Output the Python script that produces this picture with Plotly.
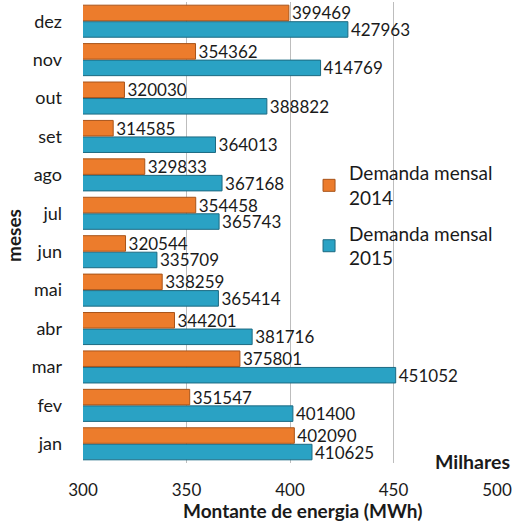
import plotly.graph_objects as go

meses = ["jan", "fev", "mar", "abr", "mai", "jun", "jul", "ago", "set", "out", "nov", "dez"]
demanda_2014 = [402090, 351547, 375801, 344201, 338259, 320544, 354458, 329833, 314585, 320030, 354362, 399469]
demanda_2015 = [410625, 401400, 451052, 381716, 365414, 335709, 365743, 367168, 364013, 388822, 414769, 427963]
x_ticks = [300, 350, 400, 450, 500]

FONT = "Lato, 'Open Sans', sans-serif"

fig = go.Figure()
fig.add_trace(go.Bar(
    y=meses, x=[v / 1000 for v in demanda_2015], orientation="h",
    name="Demanda mensal<br>2015", legendgroup="b",
    marker=dict(color="#2AA2C4", line=dict(color="#1C6A82", width=1)),
    text=[str(v) for v in demanda_2015], textposition="outside",
    constraintext="none",
    textfont=dict(size=17, color="#1a1a1a", family=FONT),
    cliponaxis=False, legendrank=2,
))
fig.add_trace(go.Bar(
    y=meses, x=[v / 1000 for v in demanda_2014], orientation="h",
    name="Demanda mensal<br>2014", legendgroup="a",
    marker=dict(color="#EC7C2C", line=dict(color="#A8541A", width=1)),
    text=[str(v) for v in demanda_2014], textposition="outside",
    constraintext="none",
    textfont=dict(size=17, color="#1a1a1a", family=FONT),
    cliponaxis=False, legendrank=1,
))

fig.update_layout(
    width=532, height=523,
    margin=dict(l=83, r=35, t=2, b=60),
    paper_bgcolor="white", plot_bgcolor="white",
    barmode="group", bargap=0.14, bargroupgap=0.06,
    font=dict(family=FONT, size=16, color="#1a1a1a"),
    showlegend=True,
    legend=dict(x=0.546, y=0.67, xanchor="left", yanchor="top",
                bgcolor="rgba(255,255,255,0)", font=dict(size=19),
                tracegroupgap=8),
    xaxis=dict(range=[300, 500], tickvals=x_ticks, ticktext=[str(t) for t in x_ticks],
               showgrid=True, gridcolor="#BDBDBD", gridwidth=1, zeroline=False,
               showline=False, ticks="", tickfont=dict(size=17), automargin=False,
               ticklabelstandoff=15),
    yaxis=dict(categoryorder="array", categoryarray=meses, showgrid=False,
               ticks="", tickfont=dict(size=18), ticklabelstandoff=20, automargin=False),
    annotations=[
        dict(text="<b>Milhares</b>", x=1.036, y=0.004, xref="paper", yref="paper",
             xanchor="right", yanchor="middle", showarrow=False,
             font=dict(size=19.5, family=FONT)),
        dict(text="<b>Montante de energia (MWh)</b>", x=(302 - 83) / 414, y=-(510 - 463) / 461,
             xref="paper", yref="paper",
             xanchor="center", yanchor="middle", showarrow=False,
             font=dict(size=19, family=FONT)),
        dict(text="<b>meses</b>", x=(13 - 83) / 414, y=(463 - 236) / 461, xref="paper", yref="paper",
             xanchor="center", yanchor="middle", showarrow=False, textangle=-90,
             font=dict(size=19, family=FONT)),
    ],
)

fig.write_html("out.html", config={"displayModeBar": False},
               post_script="document.body.style.margin='0';")
